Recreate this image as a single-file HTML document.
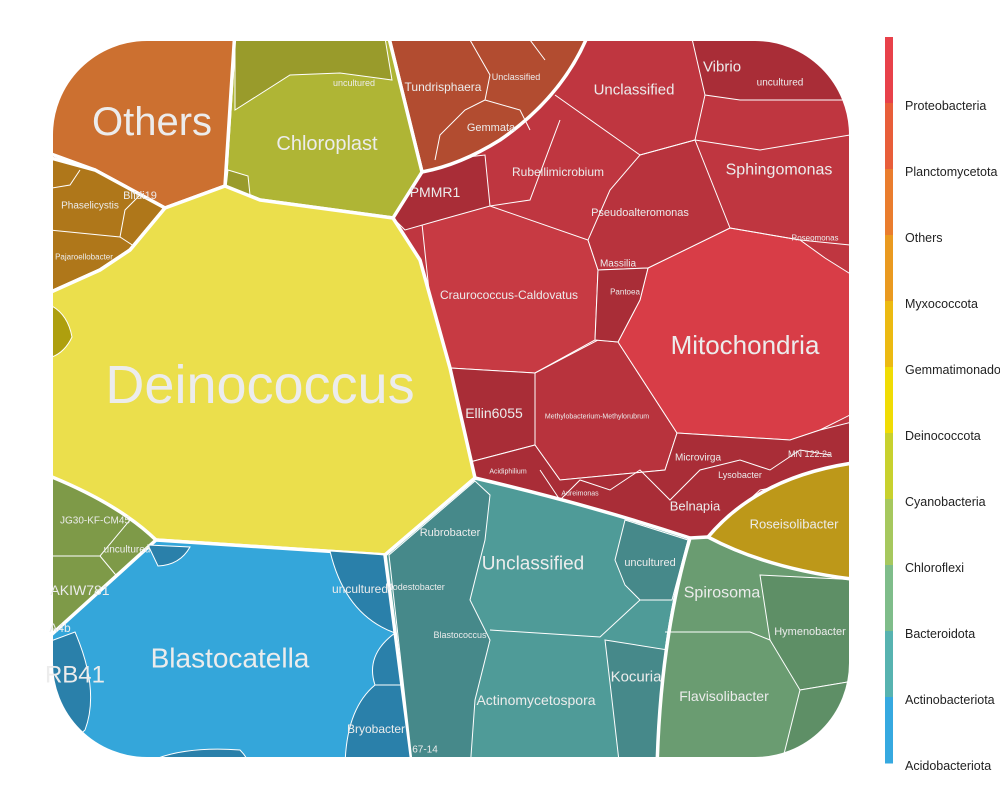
<!DOCTYPE html>
<html><head><meta charset="utf-8"><style>
html,body{margin:0;padding:0;background:#fff;}
svg{display:block;font-family:"Liberation Sans",sans-serif;}
.t{fill:#ececec;text-anchor:middle;dominant-baseline:central;}
.th{stroke:#fff;stroke-width:3.5;stroke-linejoin:round;}
.tn{stroke:#fff;stroke-width:1;}
</style></head><body>
<svg id="chart" width="1000" height="800" viewBox="0 0 1000 800">
<defs><clipPath id="clip"><rect x="52" y="40" width="798" height="718" rx="95" ry="95"/></clipPath></defs>
<g clip-path="url(#clip)">
 <rect x="40" y="30" width="820" height="740" fill="#BF3640"/>
 <polygon fill="#C73A43" class="tn" points="420,205 490,206 588,240 598,270 595,340 535,373 450,368 430,300"/>
 <polygon fill="#A92D37" class="tn" points="450,368 535,373 535,445 470,462 460,440"/>
 <polygon fill="#B8333D" class="tn" points="535,373 598,340 618,342 677,433 665,470 560,480 535,445"/>
 <polygon fill="#D83D47" class="tn" points="648,268 730,228 800,240 825,258 860,280 860,410 820,430 790,440 677,433 618,342 640,300"/>
 <polygon fill="#A92D37" class="tn" points="470,462 535,445 560,480 665,470 677,433 790,440 820,430 860,420 860,470 760,490 708,537 690,538 620,520 550,500 475,478"/>
 <polygon fill="#A92D37" class="tn" points="690,30 870,30 870,100 850,100 740,100 705,95"/>
 <polygon fill="#B8333D" class="tn" points="640,155 695,140 730,228 648,268 598,270 588,240 610,190"/>
 <polygon fill="#A92D37" class="tn" points="422,172 440,160 485,155 490,206 440,220 405,230 393,218"/>
 <polygon fill="#A92D37" class="tn" points="598,270 648,268 640,300 618,342 595,340"/>
 <polyline class="tn" fill="none" points="555,95 640,155 695,140 705,95"/>
 <polyline class="tn" fill="none" points="695,140 760,150 850,135"/>
 <polyline class="tn" fill="none" points="730,228 800,240 850,245"/>
 <polyline class="tn" fill="none" points="490,206 530,200 560,120"/>
 <polyline class="tn" fill="none" points="540,470 560,500 580,480 610,490 640,470 670,500 700,470 740,460 770,470 800,450 830,455"/>
 <path class="th" fill="#B24C30" d="M387,30 L590,30 Q565,95 500,140 Q460,165 422,172 Z"/>
 <polyline class="tn" fill="none" points="470,40 490,75 485,100 465,110 440,135 435,160"/>
 <polyline class="tn" fill="none" points="485,100 520,110 530,130"/>
 <polyline class="tn" fill="none" points="530,40 545,60"/>
 <polygon class="th" fill="#AFB535" points="235,30 387,30 422,172 393,218 260,200 225,186"/>
 <polygon fill="#999B2B" class="tn" points="235,38 385,38 392,80 340,73 290,75 235,110"/>
 <polygon fill="#999B2B" class="tn" points="228,170 248,176 250,195 226,188"/>
 <polygon class="th" fill="#CC7030" points="40,30 235,30 225,186 165,208 95,170 40,150"/>
 <polygon class="th" fill="#AF771A" points="40,155 95,170 165,208 130,250 100,270 40,297"/>
 <polyline class="tn" fill="none" points="40,229 120,237 140,250"/>
 <polyline class="tn" fill="none" points="120,237 125,210 140,195"/>
 <polyline class="tn" fill="none" points="40,190 70,185 80,170"/>
 <polygon class="th" fill="#EBDF4C" points="40,297 100,270 130,250 165,208 225,186 260,200 393,218 420,260 450,368 475,478 385,555 156,540 120,512 40,475"/>
 <path fill="#AE9F0E" class="tn" d="M52,306 Q68,315 72,337 Q65,352 52,357 Z"/>
 <path class="th" fill="#7E9A48" d="M40,475 L52,477 Q120,505 156,540 Q120,600 40,645 Z"/>
 <polyline class="tn" fill="none" points="40,556 100,556 130,520"/>
 <polyline class="tn" fill="none" points="100,556 120,580"/>
 <polygon class="th" fill="#34A6DA" points="156,540 385,555 413,770 40,770 40,645"/>
 <path fill="#2A80AA" class="tn" d="M40,645 L75,632 Q100,690 85,730 L40,770 Z"/>
 <path fill="#2A80AA" class="tn" d="M330,551 L385,555 L395,633 Q345,615 330,551 Z"/>
 <path fill="#2A80AA" class="tn" d="M395,633 L402,685 L375,685 Q365,655 395,633 Z"/>
 <path fill="#2A80AA" class="tn" d="M375,685 L402,685 L413,770 L345,770 Q345,710 375,685 Z"/>
 <path fill="#2A80AA" class="tn" d="M148,545 L190,547 Q180,565 158,566 Z"/>
 <path fill="#2A80AA" class="tn" d="M135,770 Q170,745 240,750 Q250,760 250,770 Z"/>
 <path class="th" fill="#4F9B98" d="M385,555 L475,478 Q590,505 690,538 Q660,640 657,770 L413,770 Z"/>
 <polygon fill="#46898A" class="tn" points="389,555 475,481 490,495 485,540 470,600 490,640 475,700 470,770 413,770"/>
 <polygon fill="#46898A" class="tn" points="625,520 688,540 672,600 640,600 625,585 615,560"/>
 <polygon fill="#46898A" class="tn" points="605,640 668,650 660,770 620,770 612,700"/>
 <polyline class="tn" fill="none" points="490,630 600,637 640,600"/>
 <path class="th" fill="#6A9C71" d="M690,538 L708,537 Q770,570 860,578 L860,770 L657,770 Q660,640 690,538 Z"/>
 <polygon fill="#5E8F66" class="tn" points="760,575 860,580 860,680 800,690 770,640"/>
 <polygon fill="#5E8F66" class="tn" points="800,690 860,680 860,770 780,770"/>
 <polyline class="tn" fill="none" points="665,632 750,632 770,640"/>
 <path class="th" fill="#BD9819" d="M708,537 Q760,475 860,462 L860,580 Q770,570 708,537 Z"/>
</g>
<rect x="52" y="40" width="798" height="718" rx="95" ry="95" fill="none" stroke="#fff" stroke-width="2"/>
<g id="labels"></g>
<g id="legend"></g>
<script>
const phyla = ["Proteobacteria","Planctomycetota","Others","Myxococcota","Gemmatimonadota","Deinococcota","Cyanobacteria","Chloroflexi","Bacteroidota","Actinobacteriota","Acidobacteriota"];
const legendColors = ["#E8414A","#E85E3A","#EA7D2E","#EA9A20","#ECBA12","#F0DC05","#C8D12E","#A6C85E","#7FBD8A","#57B3B0","#36A9E0"];
const cellNames = ["Others","Chloroplast","Deinococcus","Mitochondria","Blastocatella","Unclassified","Actinomycetospora","Spirosoma","Flavisolibacter","Roseisolibacter","RB41","Craurococcus-Caldovatus","Sphingomonas","Unclassified","Vibrio","uncultured","Rubellimicrobium","Pseudoalteromonas","PMMR1","Ellin6055","Tundrisphaera","Gemmata","Unclassified","Phaselicystis","Blfdi19","Pajaroellobacter","JG30-KF-CM45","uncultured","AKIW781","A4b","Rubrobacter","uncultured","Kocuria","Modestobacter","uncultured","Bryobacter","Belnapia","Massilia","Pantoea","Microvirga","Lysobacter","MN  122.2a","Hymenobacter","Methylobacterium-Methylorubrum","Blastococcus","67-14","uncultured","Roseomonas","Acidiphilium","Aureimonas"];
const cellSizes = [40,20,54,26,28,19,14,16,14,13,24,12,16,15,15,10,12,11,14,14,12,11,9,10,11,8,10,10,14,12,11,11,15,9,12,12,13,10,8,10,9,9,11,7,9,10,9,8,7,7];
const cellX = [152,327,260,745,230,533,536,722,724,794,75,509,779,634,722,780,558,640,435,494,443,491,516,90,140,84,95,127,80,60,450,650,636,415,360,376,695,618,625,698,740,810,810,597,460,425,354,815,508,580];
const cellY = [122,144,385,345,658,564,700,593,696,524,675,295,170,90,67,83,172,213,192,413,87,128,77,206,196,257,521,550,590,628,533,563,677,587,589,729,506,264,292,458,475,454,632,417,635,750,83,238,472,494];
const NS="http://www.w3.org/2000/svg";
const lg=document.getElementById('labels');
cellNames.forEach((n,i)=>{
  const t=document.createElementNS(NS,'text');
  t.setAttribute('class','t');
  t.setAttribute('x',cellX[i]);t.setAttribute('y',cellY[i]);
  t.setAttribute('font-size',cellSizes[i]);
  t.textContent=n;
  
  
  lg.appendChild(t);
});
const leg=document.getElementById('legend');
const top0=37, segH=66;
legendColors.forEach((c,i)=>{
  const r=document.createElementNS(NS,'rect');
  r.setAttribute('x',885);r.setAttribute('y',top0+i*segH);
  r.setAttribute('width',8);r.setAttribute('height',segH+0.5);
  r.setAttribute('fill',c);
  
  
  leg.appendChild(r);
});
phyla.forEach((p,i)=>{
  const t=document.createElementNS(NS,'text');
  t.setAttribute('x',905);t.setAttribute('y',top0+(i+1)*segH+3);
  t.setAttribute('font-size',12.5);t.setAttribute('fill','#222');
  t.setAttribute('dominant-baseline','central');
  t.textContent=p;
  
  
  leg.appendChild(t);
});
</script>
</svg>
</body></html>
